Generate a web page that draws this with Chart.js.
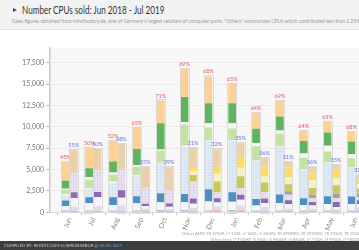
<!DOCTYPE html>
<html><head><meta charset="utf-8">
<script src="https://cdn.jsdelivr.net/npm/chart.js@4"></script>
<style>
html,body{margin:0;padding:0;width:359px;height:250px;overflow:hidden;background:#fff;font-family:"Liberation Sans Narrow","Lato",sans-serif;}
#head{position:absolute;left:0;top:0;width:359px;height:29px;background:#f2f2f2;border-bottom:1px solid #e3e3e3;}
#tri{position:absolute;left:13px;top:8px;width:0;height:0;border-left:4px solid #2b3fb5;border-top:2.5px solid transparent;border-bottom:2.5px solid transparent;}
#title{position:absolute;left:22px;top:3px;font-size:11px;line-height:13px;color:#333;white-space:nowrap;transform:scaleX(0.74);transform-origin:0 50%;}
#sub{position:absolute;left:12px;top:18px;font-size:5px;line-height:6px;color:#9a9a9a;white-space:nowrap;}
#wrap{position:absolute;left:0;top:30px;width:400px;height:211px;}
.note{position:absolute;font-size:4px;line-height:5px;color:#a0a0a0;white-space:nowrap;}
#foot{position:absolute;left:0;top:241px;width:359px;height:9px;background:#3d3d3d;}
#foot span{position:absolute;left:4px;top:2px;font-size:4px;line-height:5px;color:#cfcfcf;white-space:nowrap;letter-spacing:0.1px;}
#foot b{font-weight:normal;color:#5aa2e6;}
</style></head>
<body>
<div id="head"><div id="tri"></div><div id="title">Number CPUs sold: Jun 2018 - Jul 2019</div>
<div id="sub">Sales figures obtained from mindfactory.de, one of Germany's largest retailers of computer parts. "Others" summarizes CPUs which contributed less than 1.25% in the last 24 months.</div></div>
<div id="wrap"><canvas id="c" width="400" height="211"></canvas></div>
<div class="note" style="left:182px;top:231px">Others AMD: TR 2950X, r7 1700, r5 1600, r5 2400G, TR 2990WX, TR 2970WX, TR 1950X, TR 1920X, r7 1800X, r5 1600X, r5 1500X, r3 1200</div>
<div class="note" style="left:210px;top:237px">Others Intel: i7 9700KF, i5 8500, i5 9600KF, i5 8600K, i7 7700K, i9 9900X, i7 9800X, i9 7900X, i7 7700</div>
<div id="foot"><span>COMPILED BY: REDDIT.COM/U/SERUNGEBOR @ <b>08/05/2019</b></span></div>
<script>
const months = ["Jun","Jul","Aug","Sep","Oct","Nov","Dec","Jan","Feb","Mar","Apr","May","Jun","Jul"];
const yTicks = [0,2500,5000,7500,10000,12500,15000,17500];

// AMD series (bottom -> top)
const amdOthers = [200,200,200,200,270,270,200,270,200,200,200,200,200,200];
const r3_2200G  = [550,860,660,860,900,900,1055,975,590,860,665,780,740,720];
const r5_1600   = [625,700,900,820,1055,975,1445,1095,780,1015,780,900,900,880];
const r5_2600   = [590,940,1640,2345,3500,5500,5665,6045,4420,5570,3320,3925,3345,3500];
const r5_2400G  = [150,120,200,120,80,150,60,60,60,60,60,60,60,60];
const r7_2700   = [510,980,780,940,1400,2460,1485,1370,1680,1485,1370,1250,1090,1100];
const r7_1700X  = [120,310,270,230,150,310,510,590,390,390,470,665,470,480];
const r5_2600X  = [940,1055,1290,1900,3050,2930,2345,2345,1640,1640,1485,1560,1485,1500];
const r7_2700X  = [2175,2405,2420,2495,2675,3265,3125,2290,1840,1820,1210,1210,1090,1050];

// Intel series (bottom -> top)
const intelOthers = [150,150,150,150,150,150,200,200,150,150,150,150,150,150];
const i3_8100  = [510,550,660,270,230,350,470,590,470,270,270,200,350,340];
const i5_8600K = [1000,1090,900,310,270,510,470,665,470,510,390,270,430,420];
const i5_8400  = [700,590,860,270,390,590,510,590,510,470,390,590,470,460];
const i7_8700  = [2230,2540,2345,1950,1560,1990,700,780,780,665,470,470,390,380];
const i5_9400F = [0,0,0,0,0,0,0,0,0,390,390,510,390,380];
const i9_9900K = [0,0,0,0,0,780,1250,1405,1095,820,780,975,590,600];
const i5_9600K = [0,0,0,0,0,390,900,975,700,860,900,860,510,520];
const i7_9700K = [0,0,0,0,0,550,780,1290,1170,1095,900,1015,590,600];
const i7_8700K = [2700,2500,3125,2390,2660,2260,2100,1595,1055,665,665,550,470,450];

const amdShare   = [45,50,52,65,71,69,68,65,64,69,64,65,68,69];
const intelShare = [55,50,48,35,29,31,32,35,36,31,36,35,32,31];

function dots(base, dot){
  const c=document.createElement('canvas'); c.width=3; c.height=3;
  const g=c.getContext('2d'); g.fillStyle=base; g.fillRect(0,0,3,3);
  g.fillStyle=dot; g.fillRect(1,1,1,1);
  return g.createPattern(c,'repeat');
}
const FONT = '"Liberation Sans Narrow","Lato",sans-serif';

const amd = [
  ["Others AMD", amdOthers, '#a9c6dc'],
  ["r3 2200G", r3_2200G, '#f3f7fa'],
  ["r5 1600", r5_1600, '#4b8fc3'],
  ["r5 2600", r5_2600, dots('#dde9f4','#c9dcec')],
  ["r5 2400G", r5_2400G, '#f4f8ee'],
  ["r7 2700", r7_2700, '#c4e2a2'],
  ["r7 1700X", r7_1700X, '#f6faf0'],
  ["r5 2600X", r5_2600X, '#5fb45f'],
  ["r7 2700X", r7_2700X, '#fdd193']
];
const intel = [
  ["Others Intel", intelOthers, '#f5a35a'],
  ["i3 8100", i3_8100, '#e3d8ec'],
  ["i5 8600K", i5_8600K, '#f7f4f9'],
  ["i5 8400", i5_8400, '#8a6bb3'],
  ["i7 8700", i7_8700, dots('#e7def0','#d6c9e4')],
  ["i5 9400F", i5_9400F, '#a3a3a3'],
  ["i9 9900K", i9_9900K, '#c9c957'],
  ["i5 9600K", i5_9600K, '#f4f1c9'],
  ["i7 9700K", i7_9700K, '#fedd5e'],
  ["i7 8700K", i7_8700K, '#ebd0aa']
];
const mk = (arr, stack) => arr.map(([label, vals, color]) => ({
  label, stack, backgroundColor: color, borderWidth: 0,
  data: vals.map((v,i)=>({x:i, y:v})),
  barPercentage: 0.92, categoryPercentage: 0.7
}));
const datasets = [...mk(amd,'AMD'), ...mk(intel,'Intel')];
const sumAt = (arr,i) => arr.reduce((s,d)=>s+d[1][i],0);

const plugin = {
  id:'deco',
  beforeDraw(chart){
    const {ctx, chartArea:a} = chart;
    ctx.save(); ctx.fillStyle='#f7f7f7'; ctx.fillRect(a.left,a.top,a.right-a.left,a.bottom-a.top); ctx.restore();
  },
  afterDatasetsDraw(chart){
    const ctx = chart.ctx, ys = chart.scales.y;
    const topA = amd.length-1, topI = datasets.length-1;
    ctx.save();
    months.forEach((m,i)=>{
      [[topA, sumAt(amd,i), amdShare[i], '#e35b5b'], [topI, sumAt(intel,i), intelShare[i], '#6f6fe0']].forEach(([di, tot, pct, col])=>{
        const bar = chart.getDatasetMeta(di).data[i];
        const yTop = ys.getPixelForValue(tot), yBot = ys.getPixelForValue(0);
        const w = bar.width;
        ctx.strokeStyle='rgba(215,215,215,0.9)'; ctx.lineWidth=1;
        ctx.strokeRect(Math.round(bar.x-w/2)-0.5, Math.round(yTop)-0.5, Math.round(w)+1, Math.round(yBot-yTop)+1);
        ctx.fillStyle=col; ctx.font='5.5px '+FONT; ctx.textAlign='center'; ctx.textBaseline='bottom';
        ctx.fillText(pct+'%', bar.x, yTop-2);
      });
    });
    ctx.restore();
  }
};

new Chart(document.getElementById('c'), {
  type:'bar',
  data:{datasets},
  plugins:[plugin],
  options:{
    responsive:false, animation:false, devicePixelRatio:1,
    layout:{padding:{top:18,right:7,left:0,bottom:0}},
    plugins:{legend:{display:false}, tooltip:{enabled:false}},
    scales:{
      x:{type:'linear', min:-0.82, max:13.57, offset:false,
        afterBuildTicks(s){ s.ticks = months.map((m,i)=>({value:i})); },
        afterFit(s){ s.height = 28.7; },
        ticks:{callback:(v)=>months[v], minRotation:70, maxRotation:70, autoSkip:false, color:'#888', font:{size:7, family:FONT}, padding:1},
        grid:{drawOnChartArea:false, tickLength:3, color:'#c8c8c8'},
        border:{color:'#dcdcdc'}
      },
      y:{stacked:true, min:0, max:19220,
        afterBuildTicks(s){ s.ticks = yTicks.map(v=>({value:v})); },
        afterFit(s){ s.width = 50; },
        ticks:{callback:(v)=>v.toLocaleString('en-US'), color:'#777', font:{size:7, family:FONT}, padding:2},
        grid:{color:'#ececec', tickLength:4, tickColor:'#b5b5b5'},
        border:{color:'#c8c8c8', width:1.5}
      }
    }
  }
});
</script>
</body></html>
